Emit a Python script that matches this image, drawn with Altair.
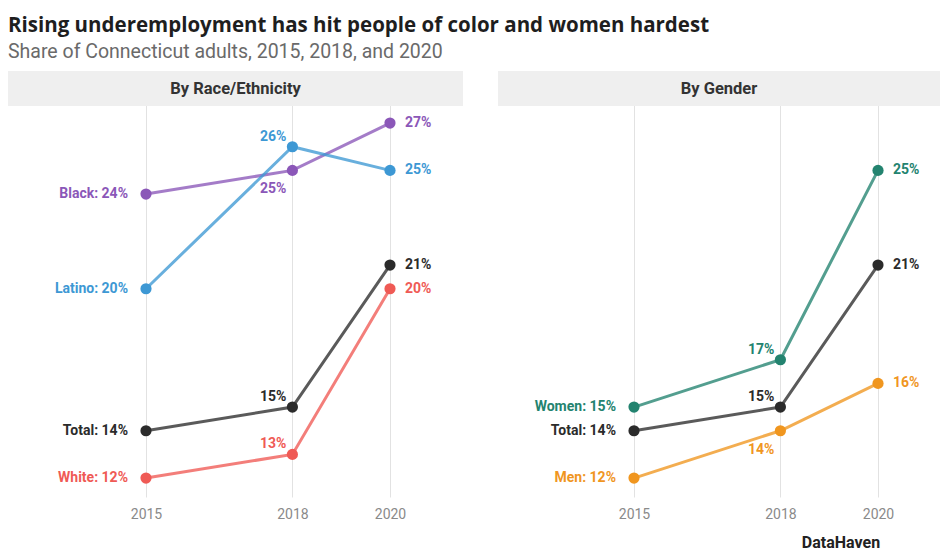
import altair as alt
import pandas as pd

YEARS = [2015, 2018, 2020]

RACE_GROUPS = ["Black", "Latino", "Total", "White"]
BLACK = [24, 25, 27]
LATINO = [20, 26, 25]
TOTAL = [14, 15, 21]
WHITE = [12, 13, 20]
RACE_COLORS = ["#8b57b8", "#3d98d4", "#2b2b2b", "#ef5a55"]

GENDER_GROUPS = ["Women", "Total", "Men"]
WOMEN = [15, 17, 25]
MEN = [12, 14, 16]
GENDER_COLORS = ["#23836f", "#2b2b2b", "#f0961f"]

HEADERS = ["By Race/Ethnicity", "By Gender"]
TITLE = "Rising underemployment has hit people of color and women hardest"
SUBTITLE = "Share of Connecticut adults, 2015, 2018, and 2020"
SOURCE = "DataHaven"

MID_BELOW = {"Black", "Men"}

FONT = "Roboto"
Y_DOMAIN = [11.2, 29.2]
PANEL_H = 426
HEADER_H = 35


def make_df(groups, series):
    rows = []
    for g, vals in zip(groups, series):
        for y, v in zip(YEARS, vals):
            rows.append({
                "group": g,
                "year": y,
                "value": v,
                "pct": f"{v}%",
                "start_label": f"{g}: {v}%",
                "pos": "below" if g in MID_BELOW else "above",
            })
    return pd.DataFrame(rows)


def panel(df, groups, colors, header, width, xdomain, extra=None):
    base = alt.Chart(df).encode(
        x=alt.X("year:Q",
                scale=alt.Scale(domain=xdomain, nice=False, zero=False),
                axis=alt.Axis(values=YEARS, format="d", title=None, domain=False,
                              ticks=False, grid=True, gridColor="#e2e2e2",
                              gridWidth=1, labelColor="#8a8a8a", labelFontSize=14,
                              labelFont=FONT, labelPadding=10)),
        y=alt.Y("value:Q", scale=alt.Scale(domain=Y_DOMAIN, nice=False, zero=False),
                axis=None),
        color=alt.Color("group:N", scale=alt.Scale(domain=groups, range=colors),
                        legend=None),
    )
    lines = base.mark_line(strokeWidth=3, opacity=0.78).encode(detail="group:N")
    points = base.mark_circle(size=125, opacity=1)
    tstyle = dict(fontWeight="bold", fontSize=14, font=FONT)
    start = base.transform_filter("datum.year == 2015").mark_text(
        align="right", baseline="middle", dx=-18, **tstyle).encode(text="start_label:N")
    end = base.transform_filter("datum.year == 2020").mark_text(
        align="left", baseline="middle", dx=15, **tstyle).encode(text="pct:N")
    mid_above = base.transform_filter("datum.year == 2018 && datum.pos == 'above'").mark_text(
        align="right", baseline="middle", dx=-6, dy=-10, **tstyle).encode(text="pct:N")
    mid_below = base.transform_filter("datum.year == 2018 && datum.pos == 'below'").mark_text(
        align="right", baseline="middle", dx=-6, dy=19, **tstyle).encode(text="pct:N")

    hdf = pd.DataFrame({"t": [header]})
    hdr = alt.Chart(hdf).mark_rect(color="#efefef").encode(
        x=alt.value(0), x2=alt.value(width), y=alt.value(0), y2=alt.value(HEADER_H))
    hdr_text = alt.Chart(hdf).mark_text(
        fontWeight="bold", fontSize=16.5, font=FONT, color="#333333",
        baseline="middle").encode(text="t:N", x=alt.value(width / 2),
                                  y=alt.value(HEADER_H / 2))
    layers = [hdr, hdr_text, lines, points, start, end, mid_above, mid_below]
    if extra is not None:
        layers.append(extra)
    return alt.layer(*layers).properties(width=width, height=PANEL_H)


race_df = make_df(RACE_GROUPS, [BLACK, LATINO, TOTAL, WHITE])
gender_df = make_df(GENDER_GROUPS, [WOMEN, TOTAL, MEN])

W1, W2 = 455, 442
px_per_year = 48.8
x1 = [2015 - 138 / px_per_year, 2015 - 138 / px_per_year + W1 / px_per_year]
x2 = [2015 - 136 / px_per_year, 2015 - 136 / px_per_year + W2 / px_per_year]

src = alt.Chart(pd.DataFrame({"t": [SOURCE]})).mark_text(
    fontWeight="bold", fontSize=16, font=FONT, color="#222222", baseline="middle"
).encode(text="t:N", x=alt.value(343), y=alt.value(PANEL_H + 46))

p1 = panel(race_df, RACE_GROUPS, RACE_COLORS, HEADERS[0], W1, x1)
p2 = panel(gender_df, GENDER_GROUPS, GENDER_COLORS, HEADERS[1], W2, x2, extra=src)

chart = alt.hconcat(p1, p2, spacing=35).resolve_scale(color="independent").properties(
    title=alt.TitleParams(
        text=TITLE, subtitle=SUBTITLE, anchor="start", font="Open Sans", fontSize=20.5,
        fontWeight="bold", color="#1e1e1e", subtitleFont=FONT, subtitleFontSize=19.5,
        subtitleColor="#6a6a6a", subtitlePadding=6, offset=10),
    padding={"left": 0, "top": 8, "right": 0, "bottom": 0},
).configure_view(stroke=None)

chart.save("out.html", embed_options={"renderer": "svg", "actions": False})
